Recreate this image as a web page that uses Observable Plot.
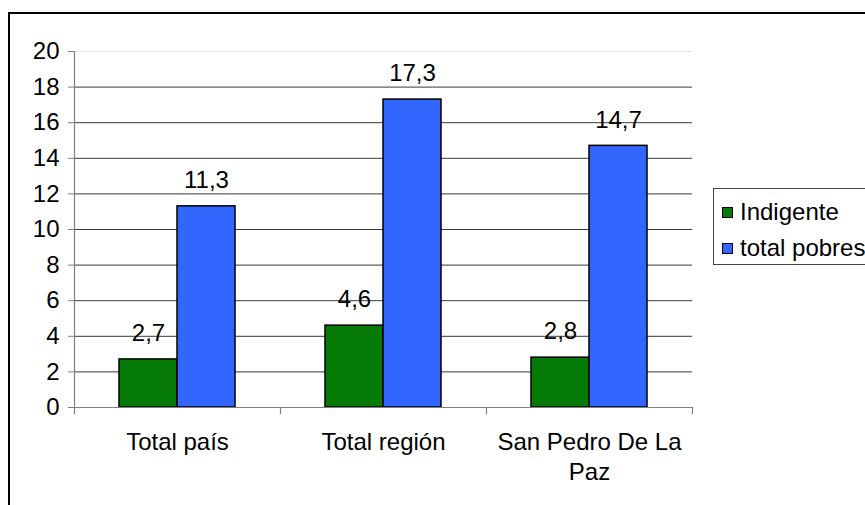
<!DOCTYPE html>
<html>
<head>
<meta charset="utf-8">
<script src="https://cdn.jsdelivr.net/npm/d3@7"></script>
<script src="https://cdn.jsdelivr.net/npm/@observablehq/plot@0.6"></script>
<style>
  html, body { margin: 0; padding: 0; background: #fff; overflow: hidden; }
  #wrap { position: relative; width: 865px; height: 505px; overflow: hidden; font-family: "Liberation Sans", Arial, sans-serif; }
  #outer { position: absolute; left: 8px; top: 12px; width: 1000px; height: 1000px; border: 2px solid #000; box-sizing: border-box; }
  #chart { position: absolute; left: 0; top: 0; }
  #legend { position: absolute; left: 713px; top: 188px; width: 300px; height: 77px; border: 1px solid #444; box-sizing: border-box; background: #fff; }
  .row { position: absolute; left: 8px; height: 24px; display: flex; align-items: center; font-size: 24px; color: #000; white-space: nowrap; }
  .sw { width: 9px; height: 9px; border: 1px solid #000; margin-right: 7px; }
</style>
</head>
<body>
<div id="wrap">
  <div id="outer"></div>
  <div id="chart"></div>
  <div id="legend"></div>
</div>
<script>
const categories = ["Total país", "Total región", "San Pedro De La Paz"];
const categoryLabels = ["Total país", "Total región", "San Pedro De La\nPaz"];
const series = ["Indigente", "total pobres"];
const indigente = [2.7, 4.6, 2.8];
const totalPobres = [11.3, 17.3, 14.7];
const yTicks = [0, 2, 4, 6, 8, 10, 12, 14, 16, 18, 20];
const colors = ["#067a06", "#3366ff"];

const data = categories.flatMap((c, i) => [
  {category: c, series: series[0], value: indigente[i]},
  {category: c, series: series[1], value: totalPobres[i]}
]);
const labelOf = new Map(categories.map((c, i) => [c, categoryLabels[i]]));
const fmt = v => String(v).replace(".", ",");

const gridDark = yTicks.filter(v => v > 0 && v < 20);
const gridLight = yTicks.filter(v => v === 20);

const chart = Plot.plot({
  width: 865,
  height: 505,
  marginLeft: 73,
  marginRight: 172,
  marginTop: 51,
  marginBottom: 98,
  style: {fontFamily: "'Liberation Sans', Arial, sans-serif", fontSize: "24px", color: "#000", background: "transparent", overflow: "visible"},
  fx: {domain: categories, padding: 0, axis: null, label: null},
  x: {domain: series, paddingInner: 0, paddingOuter: 0.75, axis: null, label: null},
  y: {domain: [0, 20], axis: null, label: null},
  color: {domain: series, range: colors},
  marks: [
    Plot.ruleY(gridLight, {y: d => d, stroke: "#e2e2e2"}),
    Plot.ruleY(gridDark, {y: d => d, stroke: "#3a3a3a"}),
    Plot.barY(data, {fx: "category", x: "series", y: "value", fill: "series", stroke: "#000", strokeWidth: 1.5}),
    Plot.text(data, {fx: "category", x: "series", y: "value", text: d => fmt(d.value), dy: -26, fontSize: 24, fill: "#000"}),
    Plot.ruleY([0], {stroke: "#808080", strokeWidth: 1.2}),
    Plot.frame({anchor: "left", facetAnchor: "left", stroke: "#808080", strokeWidth: 1.2}),
    Plot.frame({anchor: "left", insetTop: 356, insetBottom: -6, stroke: "#808080", strokeWidth: 1.2}),
    Plot.frame({anchor: "right", facetAnchor: "right", insetTop: 356, insetBottom: -6, stroke: "#808080", strokeWidth: 1.2}),
    Plot.axisY({anchor: "left", label: null, ticks: yTicks, tickSize: 6, tickPadding: 9, stroke: "#808080", fontSize: 24, tickFormat: d => String(d)}),
    Plot.text(categories, {fx: d => d, text: d => labelOf.get(d), frameAnchor: "bottom", lineAnchor: "top", dy: 21, lineHeight: 1.25, fontSize: 24, fill: "#000"})
  ]
});
document.getElementById("chart").appendChild(chart);

const legend = document.getElementById("legend");
series.forEach((s, i) => {
  const row = document.createElement("div");
  row.className = "row";
  row.style.top = (11 + i * 36) + "px";
  const sw = document.createElement("span");
  sw.className = "sw";
  sw.style.background = colors[i];
  row.appendChild(sw);
  row.appendChild(document.createTextNode(s));
  legend.appendChild(row);
});
</script>
</body>
</html>
